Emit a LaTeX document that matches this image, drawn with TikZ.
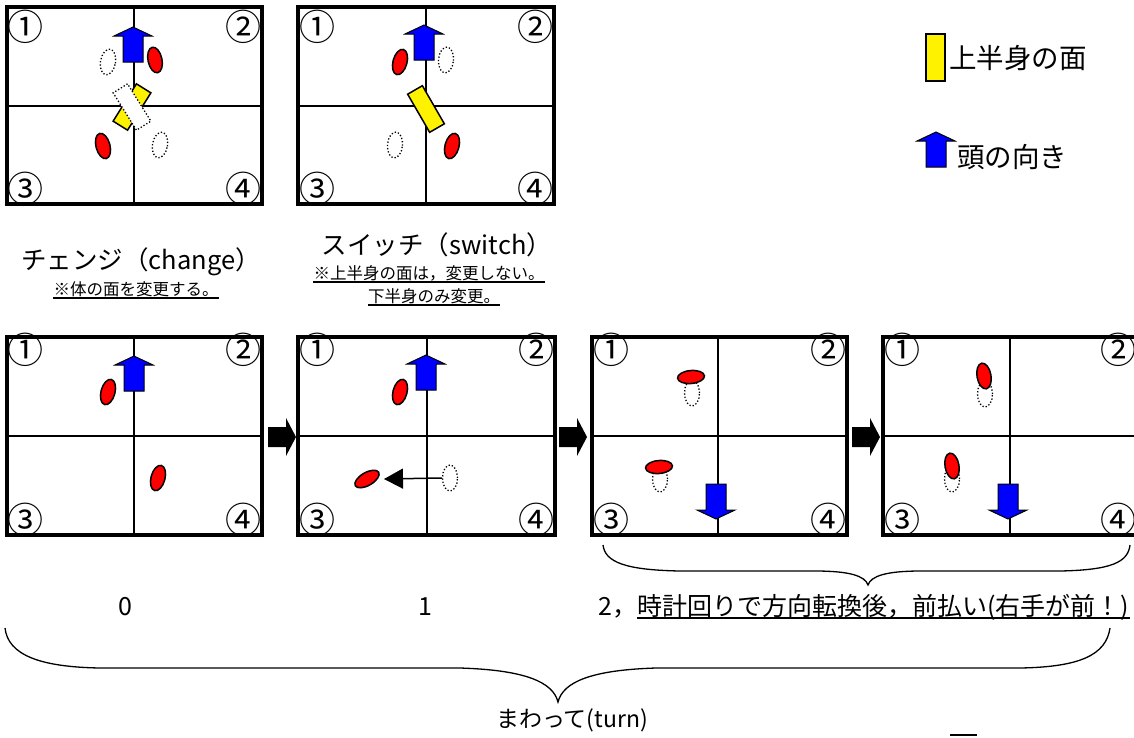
\documentclass[tikz,border=0pt]{standalone}
\usepackage{fontspec}
\setmainfont{Noto Sans CJK JP}
\usetikzlibrary{shapes.geometric,arrows.meta}
\newcommand{\fsz}[1]{\fontsize{#1}{#1}\selectfont}
% #1 name, #2 L, #3 T, #4 R, #5 B, #6 vertical x, #7 horizontal y, #8 top number offset
\newcommand{\danpanel}[8]{%
  \draw[innerline] (#6,#3) -- (#6,#5);
  \draw[innerline] (#2,#7) -- (#4,#7);
  \draw[frameline] (#2,#3) rectangle (#4,#5);
  \node[num] (#1-1) at (#2+19,#3+#8) {①};
  \node[num] (#1-2) at (#4-19,#3+#8) {②};
  \node[num] (#1-3) at (#2+19,#5-15) {③};
  \node[num] (#1-4) at (#4-19,#5-15) {④};
}
\begin{document}
\begin{tikzpicture}[x=1pt,y=-1pt,
  frameline/.style={line width=3.5pt},
  innerline/.style={line width=2.6pt},
  num/.style={font=\fsz{36}, inner sep=0pt},
  redell/.style={ellipse, draw=black, fill=red, line width=1.5pt, minimum width=14pt, minimum height=26pt, inner sep=0pt},
  redh/.style={ellipse, draw=black, fill=red, line width=1.5pt, minimum width=27pt, minimum height=13pt, inner sep=0pt},
  dotell/.style={ellipse, draw=black, dotted, line width=1.3pt, minimum width=15pt, minimum height=26pt, inner sep=0pt},
  ybox/.style={rectangle, draw=black, fill=yellow, line width=1.5pt, minimum width=17pt, minimum height=44pt, inner sep=0pt},
  wbox/.style={rectangle, draw=black, fill=white, dotted, line width=1.3pt, minimum width=17pt, minimum height=44pt, inner sep=0pt},
  lbl/.style={font=\fsz{25.5}, inner sep=0pt},
  sm/.style={font=\fsz{16.5}, inner sep=0pt},
  leg/.style={font=\fsz{27.5}, inner sep=0pt, anchor=west},
  bot/.style={font=\fsz{25}, inner sep=0pt},
  uline/.style={line width=1.6pt},
  brace/.style={line width=1.3pt},
  blarrow/.pic={\draw[fill=blue, line width=1pt, line join=miter] (0,0) -- (19,9) -- (10,9) -- (10,35) -- (-10,35) -- (-10,9) -- (-19,9) -- cycle;},
  bkarrow/.pic={\fill[black] (0,-10) -- (18,-10) -- (18,-19) -- (28,0) -- (18,19) -- (18,10) -- (0,10) -- cycle;}
]
\path[use as bounding box, fill=white] (0,0) rectangle (1134,737);

% ---------- top panel 1 : change ----------
\danpanel{ta}{7}{7}{262}{204}{134}{106}{20}
\node[dotell, rotate=-10] (ta-d1) at (108,62) {};
\node[redell, rotate=12] (ta-r1) at (155,60) {};
\node[redell, rotate=15] (ta-r2) at (103,146) {};
\node[dotell, rotate=-10] (ta-d2) at (160,145) {};
\node[ybox, rotate=-32] (ta-y) at (132,107) {};
\node[wbox, rotate=32] (ta-w) at (132,107) {};
\pic at (133,27) {blarrow};

% ---------- top panel 2 : switch ----------
\danpanel{tb}{298}{7}{554}{204}{426}{106}{20}
\node[redell, rotate=-15] (tb-r1) at (400,62) {};
\node[dotell, rotate=-5] (tb-d1) at (446,60) {};
\node[dotell, rotate=-5] (tb-d2) at (395,145) {};
\node[redell, rotate=-15] (tb-r2) at (452,146) {};
\node[ybox, rotate=30] (tb-y) at (426,109) {};
\pic at (424,25) {blarrow};

% ---------- legend ----------
\node[ybox, minimum width=19pt, minimum height=47pt] (lg-y) at (935.5,57.5) {};
\node[leg] (lg-yt) at (949,58) {上半身の面};
\pic at (936,132) {blarrow};
\node[leg] (lg-bt) at (957,157) {頭の向き};

% ---------- captions ----------
\node[lbl] (cap-c) at (141,262) {チェンジ（change）};
\node[sm] (cap-cn) at (136,289) {※体の面を変更する。};
\draw[uline] ([yshift=-3pt]cap-cn.base west) -- ([yshift=-3pt]cap-cn.base east);
\node[lbl] (cap-s) at (437,245) {スイッチ（switch）};
\node[sm] (cap-sn1) at (429,273) {※上半身の面は，変更しない。};
\draw[uline] ([yshift=-3pt]cap-sn1.base west) -- ([yshift=-3pt]cap-sn1.base east);
\node[sm] (cap-sn2) at (434,296) {下半身のみ変更。};
\draw[uline] ([yshift=-3pt]cap-sn2.base west) -- ([yshift=-3pt]cap-sn2.base east);

% ---------- bottom panel A ----------
\danpanel{pa}{7}{337}{262}{535}{134}{436}{13}
\node[redell, rotate=-15] (pa-r1) at (108,392) {};
\node[redell, rotate=-15] (pa-r2) at (158,478) {};
\pic at (134,356) {blarrow};

% ---------- bottom panel B ----------
\danpanel{pb}{298}{337}{555}{535}{427}{436}{13}
\node[redell, rotate=-15] (pb-r1) at (400,392) {};
\node[dotell] (pb-d) at (450,478) {};
\node[redh, rotate=30] (pb-r2) at (367,479) {};
\coordinate (pb-tip) at (384,479);
\draw[line width=1.5pt, -{Triangle[length=19pt,width=20pt]}] (pb-d.west) -- (pb-tip);
\pic at (426,355) {blarrow};

% ---------- bottom panel C ----------
\danpanel{pc}{592}{337}{847}{535}{718}{436}{13}
\node[dotell] (pc-d1) at (692,393) {};
\node[redh, rotate=5] (pc-r1) at (691,377) {};
\node[dotell] (pc-d2) at (660,479) {};
\node[redh, rotate=5] (pc-r2) at (659,467) {};
\pic[rotate=180] at (716,519) {blarrow};

% ---------- bottom panel D ----------
\danpanel{pd}{883}{337}{1137}{535}{1010}{436}{13}
\node[dotell] (pd-d1) at (985,394) {};
\node[redell, rotate=10] (pd-r1) at (984,376) {};
\node[dotell] (pd-d2) at (952,479) {};
\node[redell, rotate=10] (pd-r2) at (952,466) {};
\pic[rotate=180] at (1008,519) {blarrow};

% ---------- black arrows between panels ----------
\pic at (268,437) {bkarrow};
\pic at (559,437) {bkarrow};
\pic at (852,437) {bkarrow};

% ---------- step labels ----------
\node[bot] (s0) at (125,607) {0};
\node[bot] (s1) at (425,607) {1};
\node[bot, anchor=base west] (s2) at (598,615) {2，};
\node[bot, anchor=base west] (s2t) at (s2.base east) {時計回りで方向転換後，前払い(右手が前！)};
\draw[uline] ([yshift=-3pt]s2t.base west) -- ([yshift=-3pt]s2t.base east);

% ---------- braces ----------
\coordinate (sb-l) at (603,545);
\coordinate (sb-t) at (868,585);
\coordinate (sb-r) at (1130,545);
\draw[brace] (sb-l) .. controls (605,562) and (625,570) .. (680,571) -- (815,571)
  .. controls (850,571) and (865,576) .. (sb-t)
  .. controls (871,576) and (886,571) .. (921,571) -- (1060,571)
  .. controls (1112,570) and (1128,562) .. (sb-r);

\coordinate (bb-l) at (5,628);
\coordinate (bb-t) at (558,702);
\coordinate (bb-r) at (1110,628);
\draw[brace] (bb-l) .. controls (8,655) and (40,667) .. (100,668) -- (460,668)
  .. controls (525,670) and (553,682) .. (bb-t)
  .. controls (563,682) and (591,670) .. (656,668) -- (1020,668)
  .. controls (1080,667) and (1106,655) .. (bb-r);

\node[font=\fsz{23}, inner sep=0pt] (turn) at (572,720) {まわって(turn)};

\coordinate (mk-a) at (950,735);
\coordinate (mk-b) at (977,735);
\draw[line width=2pt] (mk-a) -- (mk-b);
\end{tikzpicture}
\end{document}
